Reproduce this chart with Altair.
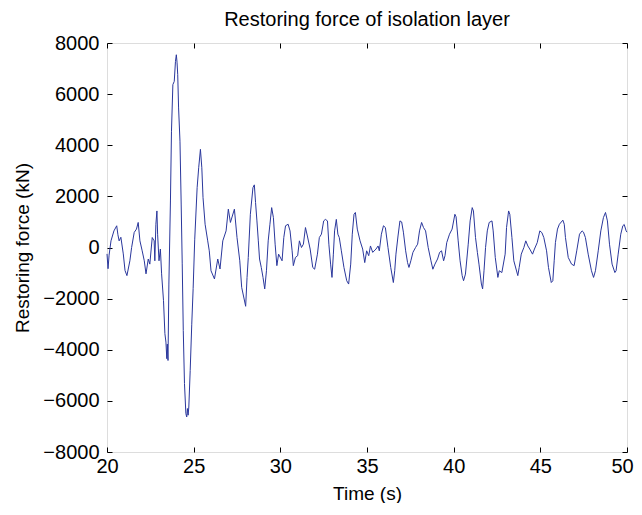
import altair as alt
import pandas as pd

# Time (s)
time_s = [20.00, 20.06, 20.12, 20.23, 20.4, 20.56, 20.63, 20.7, 20.8, 20.94, 21.04, 21.15, 21.32, 21.42,
          21.57, 21.7, 21.8, 21.9, 22.03, 22.15, 22.25, 22.38, 22.47, 22.61, 22.72, 22.76, 22.82, 22.88,
          22.92, 23.0, 23.08, 23.15, 23.26, 23.34, 23.4, 23.45, 23.48, 23.52, 23.57, 23.66, 23.72, 23.8,
          23.88, 23.95, 24.0, 24.04, 24.08, 24.13, 24.21, 24.28, 24.34, 24.4, 24.47, 24.55, 24.6, 24.64,
          24.68, 24.72, 24.8, 24.89, 24.97, 25.06, 25.2, 25.29, 25.39, 25.47, 25.54, 25.66, 25.81, 25.9,
          26.0, 26.2, 26.39, 26.52, 26.68, 26.87, 27.0, 27.12, 27.35, 27.5, 27.66, 27.77, 28.0, 28.08,
          28.15, 28.27, 28.42, 28.5, 28.57, 28.65, 28.73, 28.8, 28.9, 29.0, 29.1, 29.2, 29.3, 29.4, 29.5,
          29.6, 29.7, 29.8, 29.9, 30.1, 30.2, 30.3, 30.45, 30.56, 30.68, 30.75, 30.87, 31.0, 31.1, 31.22,
          31.33, 31.45, 31.56, 31.72, 31.87, 31.98, 32.14, 32.25, 32.37, 32.5, 32.6, 32.72, 32.8, 32.9,
          32.98, 33.06, 33.13, 33.23, 33.32, 33.4, 33.52, 33.67, 33.83, 33.94, 34.06, 34.15, 34.25, 34.33,
          34.44, 34.6, 34.75, 34.87, 34.98, 35.1, 35.2, 35.33, 35.52, 35.64, 35.71, 35.83, 35.95, 36.06,
          36.21, 36.37, 36.52, 36.6, 36.67, 36.79, 36.9, 37.0, 37.1, 37.23, 37.34, 37.42, 37.53, 37.65,
          37.8, 37.92, 38.03, 38.15, 38.26, 38.38, 38.53, 38.69, 38.8, 38.92, 39.07, 39.19, 39.3, 39.42,
          39.5, 39.6, 39.76, 39.91, 40.07, 40.14, 40.26, 40.37, 40.49, 40.57, 40.68, 40.84, 40.95, 41.07,
          41.14, 41.26, 41.37, 41.46, 41.6, 41.67, 41.75, 41.84, 41.94, 42.05, 42.21, 42.28, 42.4, 42.55,
          42.63, 42.78, 42.97, 43.05, 43.17, 43.24, 43.36, 43.47, 43.7, 43.78, 43.9, 44.05, 44.16, 44.28,
          44.39, 44.55, 44.66, 44.82, 44.97, 45.09, 45.2, 45.36, 45.47, 45.63, 45.72, 45.8, 45.87, 45.99,
          46.1, 46.3, 46.38, 46.45, 46.61, 46.8, 46.95, 47.1, 47.26, 47.41, 47.49, 47.6, 47.76, 47.95,
          48.07, 48.18, 48.34, 48.49, 48.64, 48.76, 48.87, 48.99, 49.14, 49.3, 49.37, 49.49, 49.64, 49.76,
          49.84, 49.95, 50.0]

# Restoring force (kN)
force_kn = [-250, -830, -300, 260, 650, 850, 500, 260, 400, -250, -900, -1100, -520, 0,
            590, 720, 980, 260, -130, -520, -1030, -450, -650, 390, 260, -520, 910, 1430,
            520, -520, -60, -1030, -2080, -3370, -3700, -4350, -3780, -4420, -1430, 1820, 4550, 6370,
            6500, 7280, 7540, 7250, 6760, 5460, 4160, 1700, -640, -3250, -5320, -6500, -6630, -6300,
            -6560, -6240, -4810, -3000, -1600, 300, 2340, 3120, 3840, 3120, 1950, 910, 260, -130,
            -910, -1230, -450, -840, 260, 650, 1500, 980, 1500, 390, -520, -1560, -2300, -1170,
            -390, 1300, 2340, 2450, 1760, 1040, 260, -450, -780, -1170, -1620, -910, 260, 910, 1560,
            1170, 130, -710, -260, -520, 390, 850, 910, 650, -130, -710, -390, -320, 260, 0,
            130, 780, 450, -60, -780, -850, -260, 390, 520, 1040, 1100, 1040, 130, -650,
            -1170, -260, 650, 1100, 520, 390, -130, -780, -1300, -1430, -650, 520, 1300, 1370,
            720, 260, -60, -590, -130, -320, 60, -190, -60, 60, -130, 520, 850, 780,
            0, -780, -1370, -910, -260, 450, 1040, 1000, 600, -130, -590, -780, -520, -190,
            0, 130, 650, 980, 780, 650, 0, -520, -850, -650, -450, -190, -130, -520,
            -320, 190, 520, 720, 1300, 1200, 260, -520, -1100, -1300, -1040, 130, 1040, 1560,
            1430, 390, -200, -650, -1430, -1620, -910, 0, 650, 980, 1040, 650, -390, -1170,
            -910, -980, -260, 780, 1430, 1300, 390, -520, -1100, -780, -260, 0, 260, 60,
            -60, -260, -60, 190, 650, 580, 390, -130, -780, -1370, -1300, -520, 190, 720,
            910, 1070, 910, 390, -390, -650, -710, -130, 520, 650, 600, 390, -260, -910,
            -1170, -910, -130, 650, 1170, 1370, 1040, 130, -650, -980, -910, -260, 520, 850,
            900, 650, 600]

x_ticks = [20, 25, 30, 35, 40, 45, 50]
y_ticks = [-8000, -6000, -4000, -2000, 0, 2000, 4000, 6000, 8000]

df = pd.DataFrame({"t": time_s, "f": force_kn})

FONT = "Liberation Sans"
xscale = alt.Scale(domain=[20, 50], nice=False, zero=False)
yscale = alt.Scale(domain=[-8000, 8000], nice=False)

base = alt.Chart(df)

main = base.mark_line(color="#2a379c", strokeWidth=1).encode(
    x=alt.X("t:Q", scale=xscale,
            axis=alt.Axis(orient="bottom", values=x_ticks, title="Time (s)", grid=False,
                          domain=False, offset=-5, tickSize=5, tickColor="black",
                          labelFlush=False, labelOverlap=False,
                          labelOffset={"condition": {"test": "datum.value == 50", "value": -5}, "value": 0},
                          labelFontSize=20, labelColor="black", labelPadding=4,
                          titleFontSize=19, titleFontWeight="normal", titleColor="black",
                          titlePadding=8, labelFont=FONT, titleFont=FONT)),
    y=alt.Y("f:Q", scale=yscale,
            axis=alt.Axis(orient="left", values=y_ticks, format="d", title="Restoring force (kN)",
                          grid=False, domain=False, offset=-5, tickSize=5, tickColor="black",
                          labelFlush=False, labelOverlap=False,
                          labelFontSize=20, labelColor="black", labelPadding=8,
                          titleFontSize=19, titleFontWeight="normal", titleColor="black",
                          titlePadding=10, labelFont=FONT, titleFont=FONT)),
)

mirror = base.mark_line(opacity=0).encode(
    x=alt.X("t:Q", scale=xscale,
            axis=alt.Axis(orient="top", values=x_ticks, labels=False, title=None, grid=False,
                          domain=False, offset=-5, tickSize=5, tickColor="black")),
    y=alt.Y("f:Q", scale=yscale,
            axis=alt.Axis(orient="right", values=y_ticks, labels=False, title=None, grid=False,
                          domain=False, offset=-5, tickSize=5, tickColor="black")),
)

chart = alt.layer(main, mirror).resolve_axis(x="independent", y="independent").properties(
    width=520,
    height=409,
    autosize=alt.AutoSizeParams(type="none"),
    padding={"left": 99, "top": 35, "right": 7, "bottom": 51},
    title=alt.TitleParams("Restoring force of isolation layer", fontSize=20, fontWeight="normal",
                          font=FONT, color="black", offset=3),
).configure_view(stroke="black", strokeWidth=1).configure(background="white")

chart.save("out.html", embed_options={"renderer": "svg", "actions": False})
